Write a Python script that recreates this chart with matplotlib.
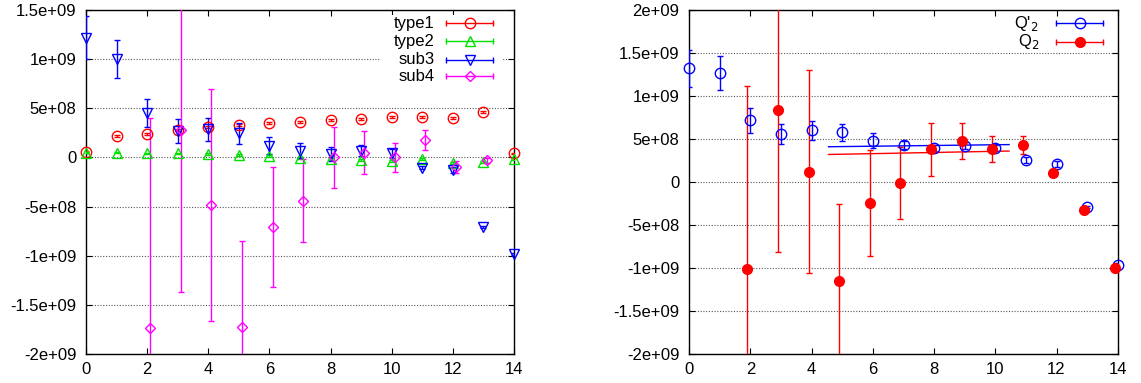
import numpy as np
import matplotlib
matplotlib.use("Agg")
import matplotlib.pyplot as plt
from matplotlib.patches import Rectangle

# ---- left panel data (values in units of 1e8) ----
x_int = np.arange(15)
type1_y = [0.6, 2.2, 2.4, 2.8, 3.1, 3.3, 3.5, 3.6, 3.8, 3.9, 4.1, 4.1, 4.0, 4.6, 0.4]
type1_err = [0.1] * 15
type2_y = [0.5, 0.5, 0.4, 0.4, 0.3, 0.2, 0.1, -0.1, -0.2, -0.3, -0.4, -0.2, -0.6, -0.5, -0.2]
type2_err = [0.1] * 15
sub3_y = [12.2, 10.0, 4.5, 2.7, 2.85, 2.45, 1.2, 0.7, 0.35, 0.7, 0.4, -1.05, -1.3, -7.1, -9.8]
sub3_err = [2.2, 1.9, 1.45, 1.25, 1.15, 1.05, 0.9, 0.75, 0.7, 0.6, 0.45, 0.15, 0.3, 0.1, 0.1]
sub4_x = [2.1, 3.1, 4.1, 5.1, 6.1, 7.1, 8.1, 9.1, 10.1, 11.1, 12.1, 13.1]
sub4_y = [-17.4, 2.8, -4.8, -17.3, -7.1, -4.4, 0.0, 0.5, 0.0, 1.8, -0.95, -0.3]
sub4_err = [21.4, 16.5, 11.8, 8.8, 6.1, 4.2, 3.1, 2.2, 1.45, 1.0, 0.6, 0.25]

# ---- right panel data (values in units of 1e8) ----
qp_y = [13.2, 12.7, 7.2, 5.6, 6.0, 5.8, 4.8, 4.3, 4.0, 4.2, 4.0, 2.56, 2.1, -2.9, -9.6]
qp_err = [2.2, 2.0, 1.45, 1.2, 1.15, 1.0, 0.85, 0.5, 0.35, 0.4, 0.35, 0.4, 0.4, 0.15, 0.15]
q_x = [1.9, 2.9, 3.9, 4.9, 5.9, 6.9, 7.9, 8.9, 9.9, 10.9, 11.9, 12.9, 13.9]
q_y = [-10.15, 8.4, 1.2, -11.5, -2.4, -0.1, 3.8, 4.8, 3.8, 4.3, 1.1, -3.3, -10.0]
q_err = [21.3, 16.5, 11.8, 8.9, 6.15, 4.2, 3.1, 2.1, 1.5, 1.0, 0.4, 0.1, 0.1]
fit_x = [4.55, 10.45]
fit_qp = [4.1, 4.35]
fit_q = [3.2, 3.6]

SCALE = 1e8

plt.rcParams["font.family"] = ["Liberation Sans", "DejaVu Sans"]
plt.rcParams["font.size"] = 12

RED, GREEN, BLUE, MAG = "#ff0000", "#00e000", "#0000ff", "#ff00ff"


def eb(ax, x, y, err, color, marker, ms, filled=False):
    cont = ax.errorbar(
        x, np.array(y) * SCALE, yerr=np.array(err) * SCALE,
        fmt=marker, color=color, ms=ms, mfc=color if filled else "none",
        mec=color, mew=1.0, elinewidth=1.0, capsize=2.2, capthick=1.0, zorder=3,
    )
    # gnuplot does not clip point symbols at the border
    cont[0].set_clip_on(False)


def key(ax, row_y, label, color, marker, ms, x_text, x0, x1, filled=False):
    ax.text(x_text, row_y, label, transform=ax.transAxes, ha="right", va="center",
            fontsize=12, zorder=5)
    ax.plot([x0, x1], [row_y, row_y], transform=ax.transAxes, color=color, lw=1.0,
            clip_on=False, zorder=5)
    ax.plot([x0, x1], [row_y, row_y], "|", transform=ax.transAxes, color=color,
            ms=5, mew=1.0, clip_on=False, zorder=5)
    ax.plot([(x0 + x1) / 2], [row_y], marker, transform=ax.transAxes, color=color,
            ms=ms, mfc=color if filled else "none", mec=color, mew=1.0,
            clip_on=False, zorder=6)


def style(ax, ylim, yticks, ylabels):
    ax.set_xlim(0, 14)
    ax.set_ylim(*ylim)
    ax.set_xticks(range(0, 15, 2))
    ax.set_yticks(yticks)
    ax.set_yticklabels(ylabels)
    ax.tick_params(direction="in", top=True, right=True, length=4, width=0.8,
                   labelsize=12)
    ax.tick_params(axis="y", pad=7)
    ax.tick_params(axis="x", pad=6)
    ax.set_axisbelow(True)
    ax.yaxis.grid(True, linestyle=(0, (1, 1.5)), color="0.35", linewidth=0.8)
    for s in ax.spines.values():
        s.set_linewidth(1.0)


fig = plt.figure(figsize=(11.41, 3.83), dpi=100)
ax1 = fig.add_axes([0.0754, 0.0757, 0.3751, 0.8982])
ax2 = fig.add_axes([0.6041, 0.0757, 0.3755, 0.8982])

# left
eb(ax1, x_int, type1_y, type1_err, RED, "o", 7.5)
eb(ax1, x_int, type2_y, type2_err, GREEN, "^", 7.5)
eb(ax1, x_int, sub3_y, sub3_err, BLUE, "v", 7.5)
eb(ax1, sub4_x, sub4_y, sub4_err, MAG, "D", 5.5)
style(ax1, (-2e9, 1.5e9), np.arange(-2e9, 1.51e9, 5e8),
      ["-2e+09", "-1.5e+09", "-1e+09", "-5e+08", "0", "5e+08", "1e+09", "1.5e+09"])
ax1.add_patch(Rectangle((0.69, 0.78), 0.285, 0.205, transform=ax1.transAxes,
                        facecolor="white", edgecolor="none", zorder=1))
key(ax1, 0.961, "type1", RED, "o", 7.5, 0.815, 0.840, 0.952)
key(ax1, 0.909, "type2", GREEN, "^", 7.5, 0.815, 0.840, 0.952)
key(ax1, 0.856, "sub3", BLUE, "v", 7.5, 0.815, 0.840, 0.952)
key(ax1, 0.807, "sub4", MAG, "D", 5.5, 0.815, 0.840, 0.952)

# right
eb(ax2, x_int, qp_y, qp_err, BLUE, "o", 7.5)
eb(ax2, q_x, q_y, q_err, RED, "o", 7.0, filled=True)
ax2.plot(fit_x, np.array(fit_qp) * SCALE, color=BLUE, lw=1.0, zorder=2)
ax2.plot(fit_x, np.array(fit_q) * SCALE, color=RED, lw=1.0, zorder=2)
style(ax2, (-2e9, 2e9), np.arange(-2e9, 2.01e9, 5e8),
      ["-2e+09", "-1.5e+09", "-1e+09", "-5e+08", "0", "5e+08", "1e+09", "1.5e+09",
       "2e+09"])
key(ax2, 0.961, "Q'$_2$", BLUE, "o", 7.5, 0.816, 0.856, 0.966)
key(ax2, 0.908, "Q$_2$", RED, "o", 7.0, 0.816, 0.856, 0.966, filled=True)

fig.savefig("out.png", dpi=100)
